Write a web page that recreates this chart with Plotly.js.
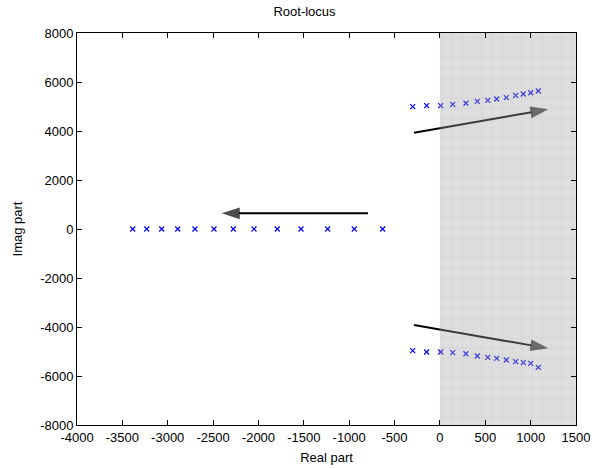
<!DOCTYPE html>
<html>
<head>
<meta charset="utf-8">
<script src="https://cdn.plot.ly/plotly-3.0.1.min.js"></script>
<style>html,body{margin:0;padding:0;background:#fff;}</style>
</head>
<body>
<div id="chart" style="width:609px;height:468px;"></div>
<script>
// Real-axis root locus points
const realBranchX = [-3386, -3232, -3067, -2890, -2700, -2490, -2277, -2049, -1792, -1531, -1237, -944, -631];
const realBranchY = [0, 0, 0, 0, 0, 0, 0, 0, 0, 0, 0, 0, 0];
// Complex branch points (upper / lower)
const complexX = [-300, -146, 9, 141, 287, 412, 527, 626, 732, 835, 919, 1001, 1084];
const upperY = [4992, 5033, 5033, 5090, 5131, 5212, 5253, 5306, 5359, 5457, 5510, 5563, 5633];
const lowerY = [-4967, -5020, -5020, -5049, -5090, -5184, -5237, -5278, -5347, -5416, -5457, -5482, -5645];
// Arrows (start -> tip)
const arrowLeftX = [-793, -2405];
const arrowLeftY = [640, 640];
const arrowUpX = [-286, 1195];
const arrowUpY = [3931, 4886];
const arrowDownX = [-286, 1195];
const arrowDownY = [-3918, -4869];
// Unstable region (right half-plane)
const shadeX = [0, 1500, 1500, 0, 0];
const shadeY = [-8000, -8000, 8000, 8000, -8000];
const xTicks = [-4000, -3500, -3000, -2500, -2000, -1500, -1000, -500, 0, 500, 1000, 1500];
const yTicks = [-8000, -6000, -4000, -2000, 0, 2000, 4000, 6000, 8000];

const markerStyle = {symbol: 'x-thin-open', size: 5, color: '#0000ff', line: {color: '#0000ff', width: 1.2}};
function arrowTrace(xs, ys) {
  return {x: xs, y: ys, type: 'scatter', mode: 'lines+markers', hoverinfo: 'skip',
    line: {color: '#000', width: 2},
    marker: {symbol: ['circle', 'arrow'], size: [0, 19], color: '#000', angleref: 'previous', line: {width: 0}}};
}
const traces = [
  {x: realBranchX, y: realBranchY, type: 'scatter', mode: 'markers', marker: markerStyle},
  {x: complexX, y: upperY, type: 'scatter', mode: 'markers', marker: markerStyle},
  {x: complexX, y: lowerY, type: 'scatter', mode: 'markers', marker: markerStyle},
  arrowTrace(arrowLeftX, arrowLeftY),
  arrowTrace(arrowUpX, arrowUpY),
  arrowTrace(arrowDownX, arrowDownY),
  {x: shadeX, y: shadeY, type: 'scatter', mode: 'none', fill: 'toself', opacity: 0.36, hoverinfo: 'skip',
    fillcolor: '#a4a4a4',
    fillpattern: {shape: '+', bgcolor: '#a4a4a4', fgcolor: '#7c7c7c', size: 10, solidity: 0.12}}
];
const font = {family: 'Liberation Sans, Arial, sans-serif', size: 13, color: '#000'};
const axisCommon = {showline: true, linecolor: '#000', linewidth: 1, mirror: 'ticks', ticks: 'inside',
  ticklen: 5, tickcolor: '#000', showgrid: false, zeroline: false, tickfont: font, autorange: false};
const layout = {
  width: 609, height: 468,
  margin: {l: 77, r: 33, t: 33, b: 43},
  paper_bgcolor: '#fff', plot_bgcolor: '#fff',
  showlegend: false, font: font,
  title: {text: 'Root-locus', font: font, x: 0.5, xanchor: 'center', y: 0.975, yanchor: 'middle'},
  xaxis: Object.assign({}, axisCommon, {range: [-4000, 1500], tickvals: xTicks, ticktext: xTicks.map(String),
    title: {text: 'Real part', font: font, standoff: 9}}),
  yaxis: Object.assign({}, axisCommon, {range: [-8000, 8000], tickvals: yTicks, ticktext: yTicks.map(String),
    title: {text: 'Imag part', font: font, standoff: 14}})
};
Plotly.newPlot('chart', traces, layout, {displayModeBar: false, staticPlot: true});
</script>
</body>
</html>
